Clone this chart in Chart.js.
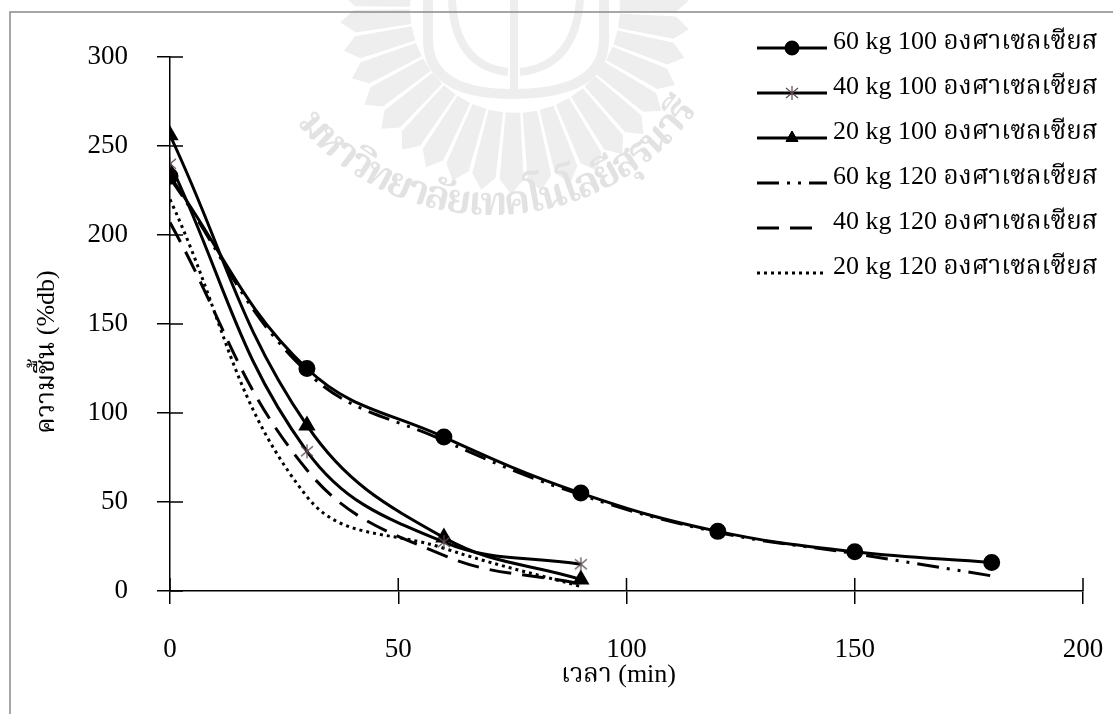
<!DOCTYPE html>
<html>
<head>
<meta charset="utf-8">
<script src="https://cdn.jsdelivr.net/npm/chart.js@4.4.1/dist/chart.umd.min.js"></script>
<style>
    html, body { margin: 0; padding: 0; background: #fff; }
    #wrap { width: 1113px; height: 714px; position: relative; }
</style>
</head>
<body>
<div id="wrap"><canvas id="dryingChart" width="1113" height="714"></canvas></div>
<script>
// drying time (min)
const timeLong = [0, 30, 60, 90, 120, 150, 180];
const timeShort = [0, 30, 60, 90];

// moisture content (%db) per load / temperature
const m60kg100 = [233, 125, 86.5, 55, 33.5, 22, 16];
const m40kg100 = [240, 78.5, 27.5, 15];
const m20kg100 = [256, 93, 30, 6.5];
const m60kg120 = [232, 123, 84.5, 54, 33, 21, 8.5];
const m40kg120 = [207, 68, 20, 4];
const m20kg120 = [220, 53, 24, 2.5];

const seriesLabels = [
    '60 kg 100 องศาเซลเซียส',
    '40 kg 100 องศาเซลเซียส',
    '20 kg 100 องศาเซลเซียส',
    '60 kg 120 องศาเซลเซียส',
    '40 kg 120 องศาเซลเซียส',
    '20 kg 120 องศาเซลเซียส'
];
const xTicks = [0, 50, 100, 150, 200];
const yTicks = [0, 50, 100, 150, 200, 250, 300];
const xTitle = 'เวลา (min)';
const yTitle = 'ความชื้น (%db)';
const watermarkText = 'มหาวิทยาลัยเทคโนโลยีสุรนารี';

const FONT = "'Liberation Serif', 'Times New Roman', 'Kinnari', 'Norasi', 'Laksaman', 'Noto Serif Thai', serif";

const toPoints = (xs, ys) => xs.map((x, i) => ({ x: x, y: ys[i] }));

// asterisk marker (X plus vertical stroke)
const asterisk = (function () {
    const c = document.createElement('canvas');
    c.width = 16; c.height = 16;
    const g = c.getContext('2d');
    g.strokeStyle = '#5a4b4b';
    g.lineWidth = 1.2;
    g.beginPath();
    g.moveTo(2, 3); g.lineTo(14, 13);
    g.moveTo(14, 3); g.lineTo(2, 13);
    g.moveTo(8, 1); g.lineTo(8, 15);
    g.stroke();
    return c;
})();

const lineBase = {
    borderColor: '#000',
    backgroundColor: '#000',
    borderWidth: 3,
    tension: 0.4,
    fill: false,
    pointRadius: 0,
    pointHoverRadius: 0
};

// white page, gray frame and the faint university seal behind the plot
const backdrop = {
    id: 'backdrop',
    beforeDraw(chart) {
        const ctx = chart.ctx;
        ctx.save();
        ctx.fillStyle = '#fff';
        ctx.fillRect(0, 0, chart.width, chart.height);

        const cx = 515, cy = 8;
        // rays
        ctx.fillStyle = '#eeeeee';
        const nRays = 23;
        for (let k = 0; k < nRays; k++) {
            const a = (194 - k * 9.35) * Math.PI / 180;
            const half = 4 * Math.PI / 180;
            const rIn = 105, rOut = 186 - Math.abs(11 - k) * 1.2;
            ctx.beginPath();
            ctx.moveTo(cx + rIn * Math.cos(a - half), cy + rIn * Math.sin(a - half));
            ctx.lineTo(cx + (rOut - 14) * Math.cos(a - half), cy + (rOut - 14) * Math.sin(a - half));
            ctx.lineTo(cx + rOut * Math.cos(a), cy + rOut * Math.sin(a));
            ctx.lineTo(cx + (rOut - 14) * Math.cos(a + half), cy + (rOut - 14) * Math.sin(a + half));
            ctx.lineTo(cx + rIn * Math.cos(a + half), cy + rIn * Math.sin(a + half));
            ctx.closePath();
            ctx.fill();
        }
        // leaf emblem
        ctx.strokeStyle = '#eeeeee';
        ctx.lineWidth = 10;
        ctx.beginPath();
        ctx.moveTo(428, 0);
        ctx.lineTo(428, 40);
        ctx.quadraticCurveTo(428, 94, 512, 94);
        ctx.quadraticCurveTo(604, 94, 604, 40);
        ctx.lineTo(604, 0);
        ctx.stroke();
        ctx.lineWidth = 8;
        ctx.beginPath();
        ctx.moveTo(452, 0);
        ctx.quadraticCurveTo(455, 66, 508, 72);
        ctx.moveTo(580, 0);
        ctx.quadraticCurveTo(575, 66, 520, 72);
        ctx.moveTo(514, 0);
        ctx.lineTo(514, 94);
        ctx.stroke();

        // arched name, glyph clusters spaced by their widths
        const clusters = watermarkText.match(/[^\u0E31\u0E34-\u0E3A\u0E47-\u0E4E][\u0E31\u0E34-\u0E3A\u0E47-\u0E4E]*/g);
        ctx.fillStyle = '#e2e2e2';
        ctx.font = 'bold 40px ' + FONT;
        ctx.textAlign = 'center';
        ctx.textBaseline = 'alphabetic';
        const tx = 492, ty = -30, rx = 250, ry = 245, aStart = 141, aEnd = 35;
        const widths = clusters.map(ch => ctx.measureText(ch).width);
        const total = widths.reduce((s, w) => s + w, 0);
        let run = 0;
        clusters.forEach((ch, i) => {
            const mid = run + widths[i] / 2;
            run += widths[i];
            const a = (aStart - (aStart - aEnd) * mid / total) * Math.PI / 180;
            ctx.save();
            ctx.translate(tx + rx * Math.cos(a), ty + ry * Math.sin(a));
            ctx.rotate(a - Math.PI / 2);
            ctx.fillText(ch, 0, 0);
            ctx.restore();
        });

        ctx.strokeStyle = '#8a8a8a';
        ctx.lineWidth = 1.5;
        ctx.beginPath();
        ctx.moveTo(10, chart.height);
        ctx.lineTo(10, 12);
        ctx.lineTo(chart.width, 12);
        ctx.stroke();
        ctx.restore();
    }
};

// tick marks cross the axis: add the inner half
const crossTicks = {
    id: 'crossTicks',
    beforeDatasetsDraw(chart) {
        const { ctx, chartArea, scales } = chart;
        ctx.save();
        ctx.strokeStyle = '#000';
        ctx.lineWidth = 1.5;
        ctx.beginPath();
        yTicks.forEach(v => {
            const y = scales.y.getPixelForValue(v);
            ctx.moveTo(chartArea.left, y);
            ctx.lineTo(chartArea.left + 13, y);
        });
        xTicks.forEach(v => {
            const x = scales.x.getPixelForValue(v);
            ctx.moveTo(x, chartArea.bottom);
            ctx.lineTo(x, chartArea.bottom - 13);
        });
        ctx.stroke();
        ctx.restore();
    }
};

// axis titles
const axisTitles = {
    id: 'axisTitles',
    afterDraw(chart) {
        const ctx = chart.ctx;
        const area = chart.chartArea;
        ctx.save();
        ctx.fillStyle = '#000';
        ctx.font = '26px ' + FONT;
        ctx.textAlign = 'center';
        ctx.textBaseline = 'alphabetic';
        ctx.fillText(xTitle, (area.left + area.right) / 2 - 8, 682);
        ctx.translate(54, 352);
        ctx.rotate(-Math.PI / 2);
        ctx.fillText(yTitle, 0, 0);
        ctx.restore();
    }
};

// legend in the upper right corner
const cornerLegend = {
    id: 'cornerLegend',
    afterDraw(chart) {
        const ctx = chart.ctx;
        const x0 = 757, x1 = 827, textX = 833;
        ctx.save();
        ctx.font = '26px ' + FONT;
        ctx.textBaseline = 'alphabetic';
        ctx.textAlign = 'left';
        chart.data.datasets.forEach((ds, i) => {
            const y = 48 + i * 45;
            ctx.save();
            ctx.strokeStyle = ds.borderColor;
            ctx.lineWidth = ds.borderWidth;
            ctx.lineCap = ds.borderCapStyle || 'butt';
            ctx.setLineDash(ds.borderDash || []);
            ctx.beginPath();
            ctx.moveTo(x0, y);
            ctx.lineTo(ds.legendEnd || x1, y);
            ctx.stroke();
            ctx.restore();
            if (ds.markerRadius) {
                Chart.helpers.drawPoint(ctx, {
                    pointStyle: ds.pointStyle,
                    radius: ds.markerRadius,
                    rotation: 0,
                    borderWidth: 1
                }, (x0 + x1) / 2, y);
                if (ds.pointStyle !== asterisk) ctx.fill();
            }
            ctx.fillStyle = '#000';
            ctx.fillText(ds.label, textX, y + 1);
        });
        ctx.restore();
    }
};

new Chart(document.getElementById('dryingChart'), {
    type: 'line',
    data: {
        datasets: [
            Object.assign({}, lineBase, {
                label: seriesLabels[0],
                data: toPoints(timeLong, m60kg100),
                pointStyle: 'circle', pointRadius: 7, markerRadius: 7
            }),
            Object.assign({}, lineBase, {
                label: seriesLabels[1],
                data: toPoints(timeShort, m40kg100),
                pointStyle: asterisk, pointRadius: 8, markerRadius: 8
            }),
            Object.assign({}, lineBase, {
                label: seriesLabels[2],
                data: toPoints(timeShort, m20kg100),
                pointStyle: 'triangle', pointRadius: 7, markerRadius: 7
            }),
            Object.assign({}, lineBase, {
                label: seriesLabels[3],
                data: toPoints(timeLong, m60kg120),
                borderDash: [22, 8, 3, 8, 3, 8]
            }),
            Object.assign({}, lineBase, {
                label: seriesLabels[4],
                data: toPoints(timeShort, m40kg120),
                borderDash: [22, 11], legendEnd: 818
            }),
            Object.assign({}, lineBase, {
                label: seriesLabels[5],
                data: toPoints(timeShort, m20kg120),
                borderDash: [3, 4]
            })
        ]
    },
    options: {
        responsive: false,
        animation: false,
        events: [],
        layout: { padding: { left: 10, top: 57, right: 30, bottom: 0 } },
        scales: {
            x: {
                type: 'linear',
                min: 0, max: 200,
                afterFit: s => { s.height = 123; s.paddingLeft = 0; s.paddingRight = 0; },
                afterBuildTicks: s => { s.ticks = xTicks.map(v => ({ value: v })); },
                ticks: { color: '#000', padding: 30, font: { family: FONT, size: 27 } },
                grid: { drawOnChartArea: false, tickLength: 13, color: '#000', lineWidth: 1.5 },
                border: { color: '#000', width: 1.5 }
            },
            y: {
                min: 0, max: 300,
                afterFit: s => { s.width = 160; },
                afterBuildTicks: s => { s.ticks = yTicks.map(v => ({ value: v })); },
                ticks: { color: '#000', padding: 29, font: { family: FONT, size: 27 } },
                grid: { drawOnChartArea: false, tickLength: 13, color: '#000', lineWidth: 1.5 },
                border: { color: '#000', width: 1.5 }
            }
        },
        plugins: {
            legend: { display: false },
            tooltip: { enabled: false }
        }
    },
    plugins: [backdrop, crossTicks, axisTitles, cornerLegend]
});
</script>
</body>
</html>
